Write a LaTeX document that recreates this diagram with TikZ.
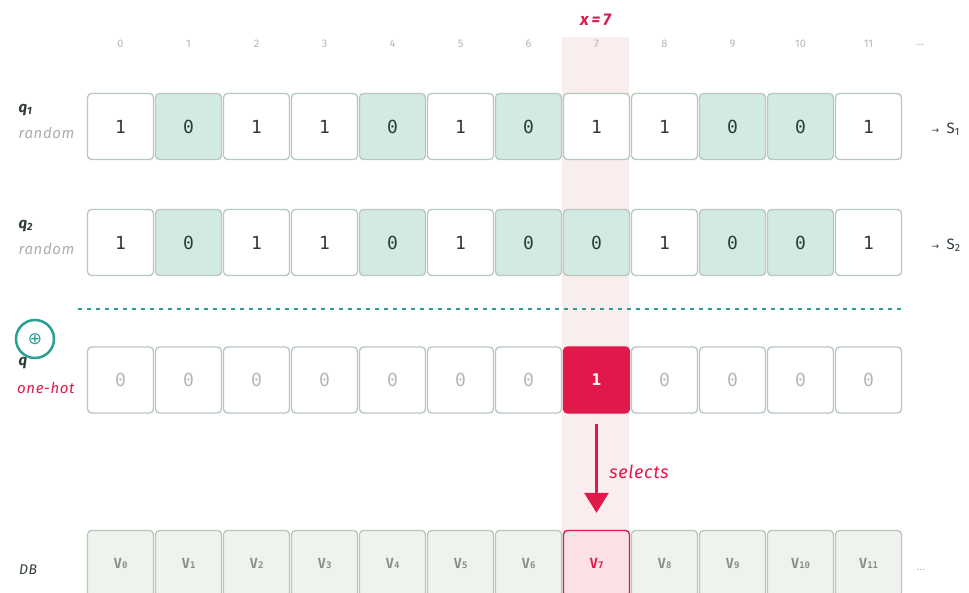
\documentclass[tikz,border=0pt]{standalone}
\usepackage{fontspec}
\setmainfont{Fira Sans}
\setmonofont{DejaVu Sans Mono}
\newfontfamily\symfont{DejaVu Sans}
\newfontfamily\notefont[LetterSpace=4]{Fira Sans}
\usepackage{xcolor}
\usetikzlibrary{arrows.meta}

\definecolor{cellline}{HTML}{B9C8BC}
\definecolor{celltext}{HTML}{2E3D33}
\definecolor{tealfill}{HTML}{D3EAE4}
\definecolor{tealline}{HTML}{2A9F94}
\definecolor{selred}{HTML}{E0194A}
\definecolor{colband}{HTML}{FAEDED}
\definecolor{dbfill}{HTML}{EEF3EE}
\definecolor{dbsel}{HTML}{FBE1E6}
\definecolor{idxgrey}{HTML}{B4B8B4}
\definecolor{notegrey}{HTML}{ABAFAB}

\begin{document}
\begin{tikzpicture}[x=1pt,y=-1pt,line width=0.5pt,
  bitcell/.style={draw=cellline,line width=1.3pt,rounded corners=4pt,minimum size=66pt,
    inner sep=0pt,font=\ttfamily\fontsize{18}{18}\selectfont,text=celltext},
  bit0/.style={bitcell,fill=tealfill},
  bit1/.style={bitcell,fill=white},
  hot0/.style={bitcell,fill=white,text=idxgrey},
  hot1/.style={bitcell,fill=selred,draw=selred,text=white,font=\ttfamily\bfseries\fontsize{16}{16}\selectfont},
  dbcell/.style={bitcell,fill=dbfill,text=black!45,font=\ttfamily\bfseries\fontsize{14}{14}\selectfont},
  dbpick/.style={dbcell,fill=dbsel,draw=selred,text=selred},
  idx/.style={font=\fontsize{11}{11}\selectfont,text=idxgrey},
  rowname/.style={anchor=west,font=\bfseries\itshape\fontsize{15}{15}\selectfont,text=celltext},
  rownote/.style={anchor=east,font=\notefont\itshape\fontsize{15}{15}\selectfont,text=notegrey}]

        \clip (0,0) rectangle (969,593);
        \fill[white] (0,0) rectangle (969,593);

        % ------------------------------------------------ selected column x = 7
        \fill[colband] (562,37) rectangle (629,593);
        \node[font=\bfseries\itshape\fontsize{17}{17}\selectfont,text=selred] (xsel) at (595.5,20) {x\,=\,7};

        % index row
        \foreach \i in {0,...,11}
          \node[idx] (idx\i) at (120.5+68*\i,44) {\i};
        \node[idx] (idxdots) at (920,45) {...};

        % ------------------------------------------------ q1 and q2
        \node[rowname] (qa) at (15,110) {q\textsubscript{1}};
        \node[rownote] (qanote) at (78,133) {random};
        \foreach \v [count=\i from 0] in {1,0,1,1,0,1,0,1,1,0,0,1}
          \node[bit\v] (a\i) at (120.5+68*\i,126.5) {\v};
        \node[anchor=west,text=celltext,font=\fontsize{15}{15}\selectfont] (sa) at (928,129)
          {{\symfont\fontsize{9}{9}\selectfont→}\enspace S\textsubscript{1}};

        \node[rowname] (qb) at (15,226) {q\textsubscript{2}};
        \node[rownote] (qbnote) at (78,249) {random};
        \foreach \v [count=\i from 0] in {1,0,1,1,0,1,0,0,1,0,0,1}
          \node[bit\v] (b\i) at (120.5+68*\i,242.5) {\v};
        \node[anchor=west,text=celltext,font=\fontsize{15}{15}\selectfont] (sb) at (928,245)
          {{\symfont\fontsize{9}{9}\selectfont→}\enspace S\textsubscript{2}};

        % xor separator
        \draw[tealline,line width=1.5pt,dash pattern=on 4pt off 5pt] (78,309) -- (902,309);
        \node[circle,draw=tealline,line width=2.5pt,minimum size=38pt,inner sep=0pt,text=tealline,
          font=\symfont\fontsize{17}{17}\selectfont] (xor) at (35,339) {⊕};

        % ------------------------------------------------ one-hot q
        \node[rowname] (qh) at (15,363) {q};
        \node[rownote,text=selred] (qhnote) at (78,388) {one-hot};
        \foreach \v [count=\i from 0] in {0,0,0,0,0,0,0,1,0,0,0,0}
          \node[hot\v] (h\i) at (120.5+68*\i,380) {\v};

        % ------------------------------------------------ database
        \node[font=\notefont\itshape\fontsize{14}{14}\selectfont,text=celltext] (db) at (28,570) {DB};
        \foreach \i in {0,...,11}
          \node[dbcell] (d\i) at (120.5+68*\i,563.5) {V{\fontsize{9}{9}\selectfont\i}};
        \node[dbpick] (d7) at (120.5+68*7,563.5) {V{\fontsize{9}{9}\selectfont 7}};
        \node[idx] (dbdots) at (921,570) {...};

        \draw[selred,line width=3pt,-{Triangle[width=24pt,length=20pt]},shorten <=10pt,shorten >=17pt]
          (h7.south) -- node[right=8pt,font=\notefont\itshape\fontsize{18}{18}\selectfont,text=selred] {selects} (d7.north);

\end{tikzpicture}
\end{document}
